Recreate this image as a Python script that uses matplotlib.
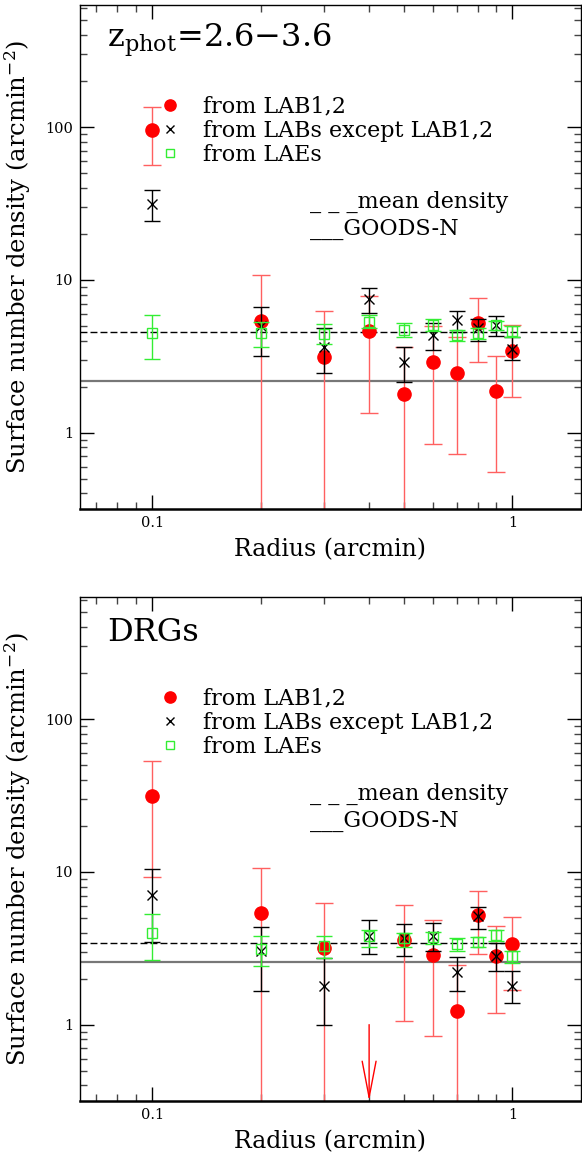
import numpy as np
import matplotlib
matplotlib.use('Agg')
import matplotlib.pyplot as plt

plt.rcParams['font.family'] = ['DejaVu Serif']
plt.rcParams['mathtext.fontset'] = 'dejavuserif'

radius = [0.1, 0.2, 0.3, 0.4, 0.5, 0.6, 0.7, 0.8, 0.9, 1.0]

# ---- z_phot = 2.6-3.6 panel ----
zp_lab12 = [95.5, 5.4, 3.15, 4.6, 1.79, 2.88, 2.45, 5.26, 1.88, 3.4]
zp_lab12_hi = [136, 10.8, 6.3, 7.9, 3.63, 4.96, 4.2, 7.6, 3.18, 5.08]
zp_lab12_lo = [56.4, 0, 0, 1.35, 0, 0.84, 0.72, 2.9, 0.55, 1.71]

zp_labs = [31.6, 4.96, 3.63, 7.5, 2.88, 4.37, 5.43, 4.84, 5.08, 3.52]
zp_labs_hi = [39, 6.6, 4.84, 8.85, 3.66, 5.2, 6.28, 5.54, 5.76, 4.22]
zp_labs_lo = [24.2, 3.17, 2.46, 6.07, 2.14, 3.49, 4.53, 4.0, 4.31, 2.97]

zp_lae = [4.49, 4.49, 4.44, 5.32, 4.71, 5.08, 4.33, 4.49, 5.03, 4.6]
zp_lae_hi = [5.89, 5.3, 5.14, 5.85, 5.19, 5.57, 4.71, 4.84, 5.35, 5.01]
zp_lae_lo = [3.03, 3.65, 3.82, 4.84, 4.22, 4.64, 4.01, 4.1, 4.71, 4.22]

zp_mean = 4.57
zp_goods = 2.19

# ---- DRGs panel (LAB1,2 at 0.4 is an upper limit) ----
drg_lab12_x = [0.1, 0.2, 0.3, 0.5, 0.6, 0.7, 0.8, 0.9, 1.0]
drg_lab12 = [31.3, 5.35, 3.16, 3.58, 2.86, 1.23, 5.22, 2.82, 3.38]
drg_lab12_hi = [53.2, 10.6, 6.28, 6.04, 4.84, 2.46, 7.52, 4.42, 5.04]
drg_lab12_lo = [9.3, 0, 0, 1.05, 0.84, 0, 2.89, 1.2, 1.69]
drg_uplim_x = [0.4]
drg_uplim_y = [1.0]

drg_labs = [7.05, 3.05, 1.8, 3.8, 3.68, 3.8, 2.22, 5.14, 2.82, 1.8]
drg_labs_hi = [10.5, 4.38, 2.72, 4.84, 4.56, 4.61, 2.79, 5.91, 3.41, 2.26]
drg_labs_lo = [3.49, 1.66, 1.0, 2.89, 2.82, 3.05, 1.65, 4.23, 2.25, 1.38]

drg_lae = [3.96, 3.11, 3.27, 3.8, 3.68, 3.76, 3.38, 3.49, 3.86, 2.82]
drg_lae_hi = [5.28, 3.82, 3.8, 4.17, 4.0, 4.06, 3.68, 3.76, 4.17, 3.05]
drg_lae_lo = [2.65, 2.43, 2.72, 3.24, 3.21, 3.38, 3.05, 3.21, 3.55, 2.55]

drg_mean = 3.41
drg_goods = 2.58

RED = '#ff0000'
RED_ERR = '#ff6060'
GREEN = '#33ee33'
YMIN, YMAX = 10 ** -0.5, 10 ** 2.8
XMIN, XMAX = 0.063, 1.55
FS = 16


def yerr(v, lo, hi):
    v, lo, hi = np.array(v), np.array(lo), np.array(hi)
    return [v - lo, hi - v]


def panel(ax, title, lab_x, lab, lab_lo, lab_hi, labs, labs_lo, labs_hi,
          lae, lae_lo, lae_hi, mean, goods, uplim=None):
    ax.set_xscale('log')
    ax.set_yscale('log', nonpositive='clip')
    ax.set_xlim(XMIN, XMAX)
    ax.set_ylim(YMIN, YMAX)

    ax.axhline(mean, color='k', ls=(0, (5, 2.2)), lw=1.0, zorder=1)
    ax.axhline(goods, color='#777777', ls='-', lw=1.6, zorder=1)

    ax.errorbar(lab_x, lab, yerr=yerr(lab, lab_lo, lab_hi), fmt='none',
                ecolor=RED_ERR, elinewidth=1.0, capsize=6.5, capthick=1.0, zorder=2)
    ax.plot(lab_x, lab, 'o', color=RED, ms=9.5, mec=RED, zorder=3,
            label='from LAB1,2')
    ax.errorbar(radius, labs, yerr=yerr(labs, labs_lo, labs_hi), fmt='none',
                ecolor='k', elinewidth=1.0, capsize=6, capthick=1.0, zorder=4)
    ax.plot(radius, labs, 'x', color='k', ms=7.5, mew=1.0, zorder=5,
            label='from LABs except LAB1,2')
    ax.errorbar(radius, lae, yerr=yerr(lae, lae_lo, lae_hi), fmt='none',
                ecolor=GREEN, elinewidth=1.0, capsize=6, capthick=1.0, zorder=6)
    ax.plot(radius, lae, 's', mfc='none', mec=GREEN, ms=7, mew=1.0, zorder=7,
            label='from LAEs')

    if uplim is not None:
        for ux, uy in zip(*uplim):
            ax.annotate('', xy=(ux, YMIN), xytext=(ux, uy),
                        arrowprops=dict(arrowstyle='->,head_length=2.6,head_width=0.5',
                                        color=RED, lw=1.0, shrinkA=0, shrinkB=0))

    ax.legend(loc='upper left', bbox_to_anchor=(0.13, 0.842), frameon=False,
              fontsize=FS, handlelength=1.2, handletextpad=0.9,
              labelspacing=0.1, borderpad=0, numpoints=1, markerscale=0.85)

    ax.text(0.054, 0.93, title, transform=ax.transAxes, fontsize=23,
            va='center', ha='left')
    ax.text(0.46, 0.61, '_ _ _mean density', transform=ax.transAxes,
            fontsize=FS, va='center', ha='left')
    ax.text(0.46, 0.555, '___GOODS-N', transform=ax.transAxes,
            fontsize=FS, va='center', ha='left')

    ax.set_xticks([0.1, 1])
    ax.set_xticklabels(['0.1', '1'])
    ax.set_yticks([1, 10, 100])
    ax.set_yticklabels(['1', '10', '100'])
    ax.tick_params(which='both', direction='in', top=True, right=True,
                   labelsize=10.5)
    ax.tick_params(which='major', length=10, width=1.0, pad=5)
    ax.tick_params(which='minor', length=5, width=1.0, color='#444444')
    for s in ax.spines.values():
        s.set_linewidth(1.0)
    ax.spines['bottom'].set_linewidth(1.8)
    ax.set_xlabel('Radius (arcmin)', fontsize=17, labelpad=6)
    ax.set_ylabel('Surface number density (arcmin$^{-2}$)', fontsize=17.5)


fig = plt.figure(figsize=(5.82, 11.6), dpi=100)
ax1 = fig.add_axes([80 / 582, 651 / 1160, 501 / 582, 504 / 1160])
ax2 = fig.add_axes([80 / 582, 59 / 1160, 501 / 582, 504 / 1160])

panel(ax1, r'z$_{\rm phot}$=2.6$-$3.6', radius, zp_lab12, zp_lab12_lo, zp_lab12_hi,
      zp_labs, zp_labs_lo, zp_labs_hi, zp_lae, zp_lae_lo, zp_lae_hi,
      zp_mean, zp_goods)
panel(ax2, 'DRGs', drg_lab12_x, drg_lab12, drg_lab12_lo, drg_lab12_hi,
      drg_labs, drg_labs_lo, drg_labs_hi, drg_lae, drg_lae_lo, drg_lae_hi,
      drg_mean, drg_goods, uplim=(drg_uplim_x, drg_uplim_y))

for ax in (ax1, ax2):
    ax.yaxis.set_label_coords(-47 / 501, 0.5)

fig.savefig('out.png', dpi=100)
